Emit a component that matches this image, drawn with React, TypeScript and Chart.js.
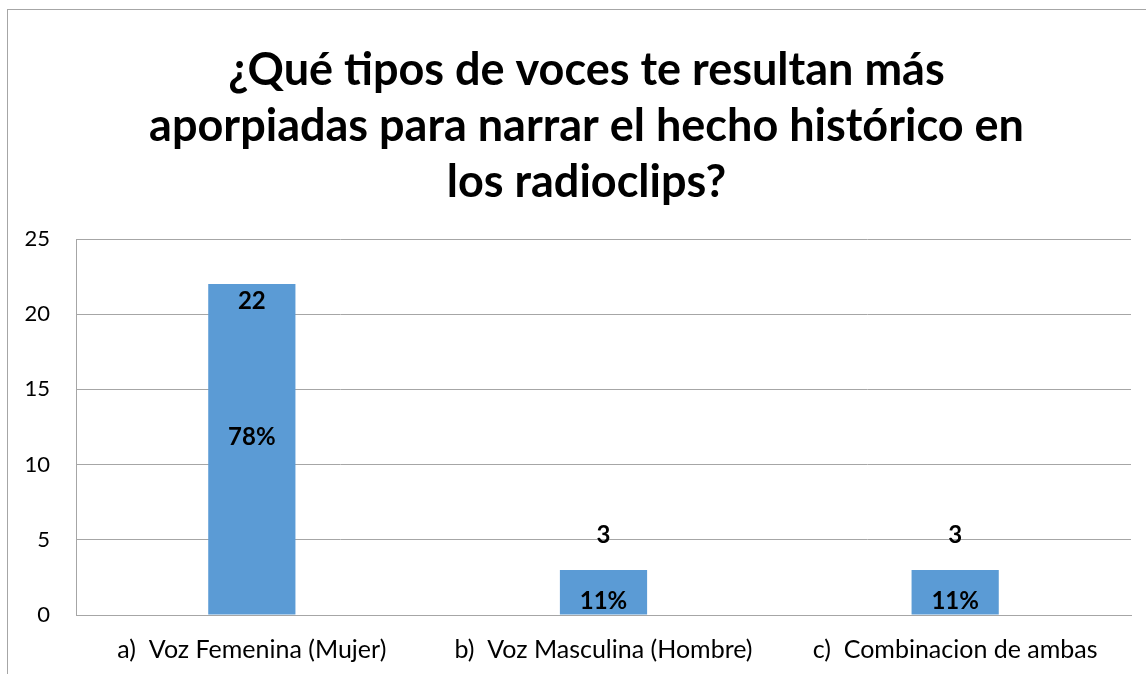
import React, { useEffect, useRef } from "react";
import { Chart, registerables } from "chart.js";

Chart.register(...registerables);

const titleLines = [
  "¿Qué tipos de voces te resultan más",
  "aporpiadas para narrar el hecho histórico en",
  "los radioclips?",
];
const categories = [
  "a)  Voz Femenina (Mujer)",
  "b)  Voz Masculina (Hombre)",
  "c)  Combinacion de ambas",
];
const counts = [22, 3, 3];
const percentLabels = ["78%", "11%", "11%"];
const yTicks = [0, 5, 10, 15, 20, 25];

const FONT = "Lato, 'Open Sans', sans-serif";

const frameAndLabels = {
  id: "frameAndLabels",
  beforeDraw(chart: any) {
    const ctx = chart.ctx;
    ctx.save();
    ctx.fillStyle = "#ffffff";
    ctx.fillRect(0, 0, chart.width, chart.height);
    ctx.strokeStyle = "#a6a6a6";
    ctx.lineWidth = 1;
    ctx.strokeRect(7.5, 9.5, chart.width + 10, chart.height + 10);
    // title, centred on the chart frame
    ctx.fillStyle = "#000000";
    ctx.textAlign = "center";
    ctx.textBaseline = "middle";
    ctx.font = `bold 45px ${FONT}`;
    const cx = (7 + chart.width + 10) / 2 + 5;
    titleLines.forEach((line, i) => {
      ctx.fillText(line, cx, 70 + i * 56);
    });
    ctx.restore();
  },
  afterDatasetsDraw(chart: any) {
    const ctx = chart.ctx;
    const meta = chart.getDatasetMeta(0);
    ctx.save();
    ctx.fillStyle = "#000000";
    ctx.textAlign = "center";
    ctx.textBaseline = "middle";
    ctx.font = `bold 24px ${FONT}`;
    meta.data.forEach((bar: any, i: number) => {
      const h = bar.base - bar.y;
      const tall = h > 80;
      const vy = tall ? bar.y + 17 : bar.y - 35;
      ctx.fillText(String(counts[i]), bar.x, vy);
      const py = tall ? (bar.y + bar.base) / 2 - 12 : bar.base - 13;
      ctx.fillText(percentLabels[i], bar.x, py);
    });
    ctx.restore();
  },
};

export default function App() {
  const ref = useRef<HTMLCanvasElement | null>(null);
  useEffect(() => {
    if (!ref.current) return;
    const chart = new Chart(ref.current, {
      type: "bar",
      data: {
        labels: categories,
        datasets: [
          {
            data: counts,
            backgroundColor: "#5B9BD5",
            borderWidth: 0,
            categoryPercentage: 1,
            barPercentage: 0.248,
          },
        ],
      },
      options: {
        responsive: false,
        animation: false,
        layout: { padding: { left: 0, right: 15, top: 239, bottom: 0 } },
        plugins: {
          legend: { display: false },
          tooltip: { enabled: false },
          title: { display: false },
        },
        scales: {
          x: {
            grid: { display: false, drawTicks: false },
            border: { display: true, color: "#a6a6a6" },
            ticks: {
              color: "#000000",
              font: { family: FONT, size: 25 },
              padding: 20,
              maxRotation: 0,
            },
            afterFit(scale: any) {
              scale.height = 59;
            },
          },
          y: {
            min: 0,
            max: 25,
            afterBuildTicks(scale: any) {
              scale.ticks = yTicks.map((v) => ({ value: v }));
            },
            grid: { color: "#a6a6a6", drawTicks: false },
            border: { display: true, color: "#a6a6a6" },
            ticks: {
              color: "#000000",
              font: { family: FONT, size: 22 },
              padding: 26,
            },
            afterFit(scale: any) {
              scale.width = 76;
            },
          },
        },
      },
      plugins: [frameAndLabels],
    });
    return () => chart.destroy();
  }, []);
  return (
    <div style={{ position: "absolute", left: 0, top: 0, width: 1146, height: 674 }}>
      <canvas ref={ref} width={1146} height={674} style={{ display: "block" }} />
    </div>
  );
}
